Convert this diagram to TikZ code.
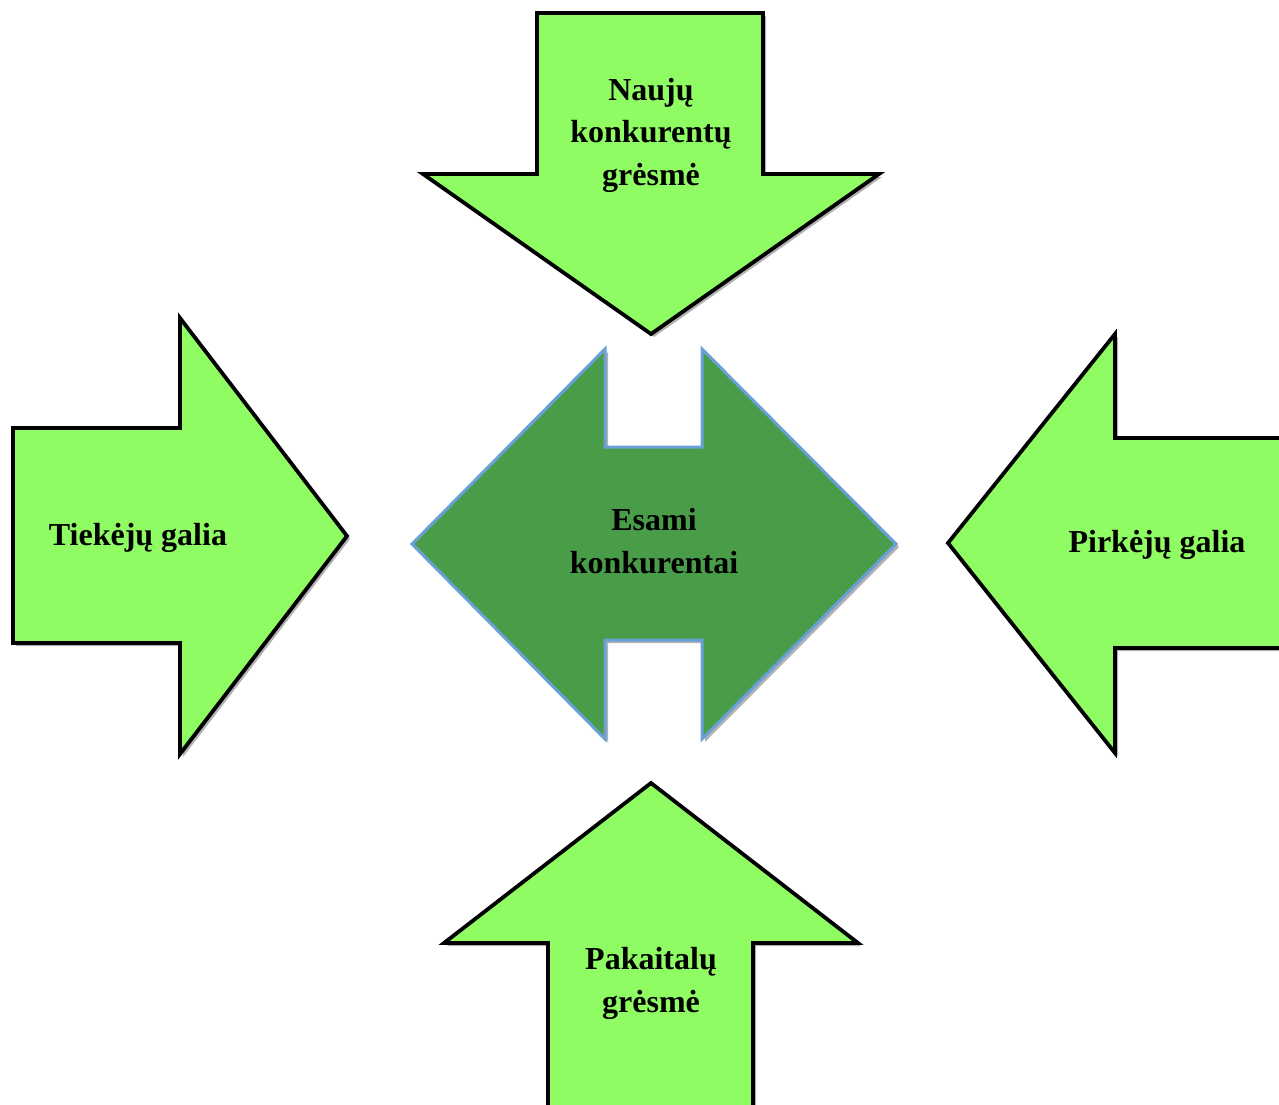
\documentclass[tikz,border=0pt]{standalone}
\usepackage{fontspec}
\setmainfont{Liberation Serif}
\usetikzlibrary{shadows}
\definecolor{lgreen}{RGB}{143,252,99}
\definecolor{dgreen}{RGB}{74,157,72}
\definecolor{bblue}{RGB}{106,160,216}
\tikzset{
  force/.style={fill=lgreen, draw=black, line width=3.8pt, line join=miter,
    drop shadow={shadow xshift=3pt, shadow yshift=-3pt, opacity=0.3, fill=black}},
  core/.style={fill=dgreen, draw=bblue, line width=3pt, line join=miter,
    drop shadow={shadow xshift=3pt, shadow yshift=-3pt, opacity=0.3, fill=black}},
  lbl/.style={font=\fontsize{32}{42.5}\selectfont\bfseries, align=center, inner sep=0pt, anchor=base}
}
\begin{document}
\begin{tikzpicture}[x=1pt,y=-1pt]
\useasboundingbox (0,0) rectangle (1279,1104);
\fill[white] (0,0) rectangle (1279,1104);
\begin{scope}
\clip (0,0) rectangle (1279,1104);
% top arrow (down)
\draw[force] (537,13) -- (763,13) -- (763,174) -- (879,174) -- (651,334) -- (423,174) -- (537,174) -- cycle;
% left arrow (right)
\draw[force] (13,428) -- (180,428) -- (180,318) -- (347,536) -- (180,754) -- (180,643) -- (13,643) -- cycle;
% right arrow (left)
\draw[force] (1300,438) -- (1115,438) -- (1115,334) -- (948,543) -- (1115,753) -- (1115,648) -- (1300,648) -- cycle;
% bottom arrow (up)
\draw[force] (548,1120) -- (548,943) -- (444,943) -- (651,783) -- (858,943) -- (753,943) -- (753,1120) -- cycle;
% center double arrow
\draw[core] (412,544) -- (605,349) -- (605,447) -- (702,447) -- (702,349) -- (896,544) -- (702,739) -- (702,640) -- (605,640) -- (605,739) -- cycle;
\end{scope}
\node[lbl] (top) at (651,185) {Naujų\\konkurentų\\grėsmė};
\node[lbl] (mid) at (654,573) {Esami\\konkurentai};
\node[lbl] (lft) at (138,545) {Tiekėjų galia};
\node[lbl] (rgt) at (1157,552) {Pirkėjų galia};
\node[lbl] (bot) at (651,1012) {Pakaitalų\\grėsmė};
\end{tikzpicture}
\end{document}
